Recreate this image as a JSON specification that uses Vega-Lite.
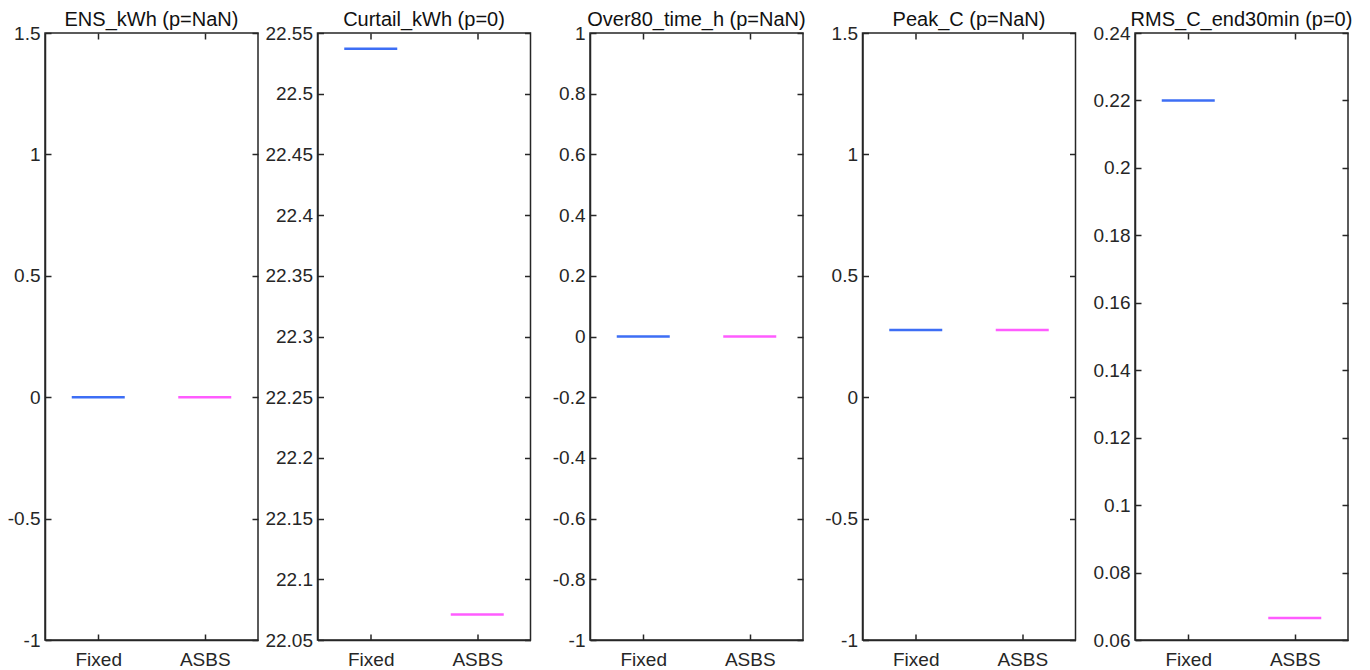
{
  "$schema": "https://vega.github.io/schema/vega-lite/v6.json",
  "background": "white",
  "padding": {"left": 6, "top": 9, "right": 0, "bottom": 0},
  "bounds": "flush",
  "spacing": 59.5,
  "data": {"values": [
    {"metric": "ENS_kWh", "group": "Fixed", "value": 0},
    {"metric": "ENS_kWh", "group": "ASBS", "value": 0},
    {"metric": "Curtail_kWh", "group": "Fixed", "value": 22.537},
    {"metric": "Curtail_kWh", "group": "ASBS", "value": 22.071},
    {"metric": "Over80_time_h", "group": "Fixed", "value": 0},
    {"metric": "Over80_time_h", "group": "ASBS", "value": 0},
    {"metric": "Peak_C", "group": "Fixed", "value": 0.277},
    {"metric": "Peak_C", "group": "ASBS", "value": 0.277},
    {"metric": "RMS_C_end30min", "group": "Fixed", "value": 0.22},
    {"metric": "RMS_C_end30min", "group": "ASBS", "value": 0.0665}
  ]},
  "config": {
    "font": "Liberation Sans",
    "view": {"stroke": "#262626", "strokeWidth": 1.5},
    "axis": {
      "grid": false, "title": null,
      "domainColor": "#262626", "domainWidth": 1.5,
      "tickColor": "#262626", "tickWidth": 1.5, "tickSize": -6,
      "labelColor": "#262626", "labelFont": "Liberation Sans", "labelFontSize": 19,
      "labelPadding": 11
    },
    "axisX": {"labelAngle": 0, "labelPadding": 16},
    "title": {"font": "Liberation Sans", "fontSize": 20, "fontWeight": "normal", "color": "#111111", "frame": "group", "offset": -6},
    "tick": {"thickness": 2.5, "opacity": 1}
  },
  "hconcat": [
    {
      "width": 213, "height": 607,
      "title": "ENS_kWh (p=NaN)",
      "transform": [{"filter": "datum.metric == 'ENS_kWh'"}],
      "layer": [
        {"mark": {"type": "tick", "size": 53, "opacity": 1},
         "encoding": {
           "x": {"field": "group", "type": "nominal", "sort": ["Fixed", "ASBS"], "scale": {"type": "point", "padding": 0.5}, "axis": {"orient": "bottom"}},
           "y": {"field": "value", "type": "quantitative", "scale": {"domain": [-1, 1.5], "nice": false, "zero": false}, "axis": {"orient": "left", "values": [-1, -0.5, 0, 0.5, 1, 1.5], "labelExpr": "'' + datum.value"}},
           "color": {"field": "group", "type": "nominal", "scale": {"domain": ["Fixed", "ASBS"], "range": ["#3d6ef5", "#ff5cff"]}, "legend": null}
         }},
        {"mark": {"type": "tick", "size": 53, "opacity": 0},
         "encoding": {
           "x": {"field": "group", "type": "nominal", "sort": ["Fixed", "ASBS"], "scale": {"type": "point", "padding": 0.5}, "axis": {"orient": "top", "labels": false, "domain": false}},
           "y": {"field": "value", "type": "quantitative", "scale": {"domain": [-1, 1.5], "nice": false, "zero": false}, "axis": {"orient": "right", "labels": false, "domain": false, "values": [-1, -0.5, 0, 0.5, 1, 1.5]}}
         }}
      ],
      "resolve": {"axis": {"x": "independent", "y": "independent"}}
    },
    {
      "width": 213, "height": 607,
      "title": "Curtail_kWh (p=0)",
      "transform": [{"filter": "datum.metric == 'Curtail_kWh'"}],
      "layer": [
        {"mark": {"type": "tick", "size": 53, "opacity": 1},
         "encoding": {
           "x": {"field": "group", "type": "nominal", "sort": ["Fixed", "ASBS"], "scale": {"type": "point", "padding": 0.5}, "axis": {"orient": "bottom"}},
           "y": {"field": "value", "type": "quantitative", "scale": {"domain": [22.05, 22.55], "nice": false, "zero": false}, "axis": {"orient": "left", "values": [22.05, 22.1, 22.15, 22.2, 22.25, 22.3, 22.35, 22.4, 22.45, 22.5, 22.55], "labelExpr": "'' + datum.value"}},
           "color": {"field": "group", "type": "nominal", "scale": {"domain": ["Fixed", "ASBS"], "range": ["#3d6ef5", "#ff5cff"]}, "legend": null}
         }},
        {"mark": {"type": "tick", "size": 53, "opacity": 0},
         "encoding": {
           "x": {"field": "group", "type": "nominal", "sort": ["Fixed", "ASBS"], "scale": {"type": "point", "padding": 0.5}, "axis": {"orient": "top", "labels": false, "domain": false}},
           "y": {"field": "value", "type": "quantitative", "scale": {"domain": [22.05, 22.55], "nice": false, "zero": false}, "axis": {"orient": "right", "labels": false, "domain": false, "values": [22.05, 22.1, 22.15, 22.2, 22.25, 22.3, 22.35, 22.4, 22.45, 22.5, 22.55]}}
         }}
      ],
      "resolve": {"axis": {"x": "independent", "y": "independent"}}
    },
    {
      "width": 213, "height": 607,
      "title": "Over80_time_h (p=NaN)",
      "transform": [{"filter": "datum.metric == 'Over80_time_h'"}],
      "layer": [
        {"mark": {"type": "tick", "size": 53, "opacity": 1},
         "encoding": {
           "x": {"field": "group", "type": "nominal", "sort": ["Fixed", "ASBS"], "scale": {"type": "point", "padding": 0.5}, "axis": {"orient": "bottom"}},
           "y": {"field": "value", "type": "quantitative", "scale": {"domain": [-1, 1], "nice": false, "zero": false}, "axis": {"orient": "left", "values": [-1, -0.8, -0.6, -0.4, -0.2, 0, 0.2, 0.4, 0.6, 0.8, 1], "labelExpr": "'' + datum.value"}},
           "color": {"field": "group", "type": "nominal", "scale": {"domain": ["Fixed", "ASBS"], "range": ["#3d6ef5", "#ff5cff"]}, "legend": null}
         }},
        {"mark": {"type": "tick", "size": 53, "opacity": 0},
         "encoding": {
           "x": {"field": "group", "type": "nominal", "sort": ["Fixed", "ASBS"], "scale": {"type": "point", "padding": 0.5}, "axis": {"orient": "top", "labels": false, "domain": false}},
           "y": {"field": "value", "type": "quantitative", "scale": {"domain": [-1, 1], "nice": false, "zero": false}, "axis": {"orient": "right", "labels": false, "domain": false, "values": [-1, -0.8, -0.6, -0.4, -0.2, 0, 0.2, 0.4, 0.6, 0.8, 1]}}
         }}
      ],
      "resolve": {"axis": {"x": "independent", "y": "independent"}}
    },
    {
      "width": 213, "height": 607,
      "title": "Peak_C (p=NaN)",
      "transform": [{"filter": "datum.metric == 'Peak_C'"}],
      "layer": [
        {"mark": {"type": "tick", "size": 53, "opacity": 1},
         "encoding": {
           "x": {"field": "group", "type": "nominal", "sort": ["Fixed", "ASBS"], "scale": {"type": "point", "padding": 0.5}, "axis": {"orient": "bottom"}},
           "y": {"field": "value", "type": "quantitative", "scale": {"domain": [-1, 1.5], "nice": false, "zero": false}, "axis": {"orient": "left", "values": [-1, -0.5, 0, 0.5, 1, 1.5], "labelExpr": "'' + datum.value"}},
           "color": {"field": "group", "type": "nominal", "scale": {"domain": ["Fixed", "ASBS"], "range": ["#3d6ef5", "#ff5cff"]}, "legend": null}
         }},
        {"mark": {"type": "tick", "size": 53, "opacity": 0},
         "encoding": {
           "x": {"field": "group", "type": "nominal", "sort": ["Fixed", "ASBS"], "scale": {"type": "point", "padding": 0.5}, "axis": {"orient": "top", "labels": false, "domain": false}},
           "y": {"field": "value", "type": "quantitative", "scale": {"domain": [-1, 1.5], "nice": false, "zero": false}, "axis": {"orient": "right", "labels": false, "domain": false, "values": [-1, -0.5, 0, 0.5, 1, 1.5]}}
         }}
      ],
      "resolve": {"axis": {"x": "independent", "y": "independent"}}
    },
    {
      "width": 213, "height": 607,
      "title": "RMS_C_end30min (p=0)",
      "transform": [{"filter": "datum.metric == 'RMS_C_end30min'"}],
      "layer": [
        {"mark": {"type": "tick", "size": 53, "opacity": 1},
         "encoding": {
           "x": {"field": "group", "type": "nominal", "sort": ["Fixed", "ASBS"], "scale": {"type": "point", "padding": 0.5}, "axis": {"orient": "bottom"}},
           "y": {"field": "value", "type": "quantitative", "scale": {"domain": [0.06, 0.24], "nice": false, "zero": false}, "axis": {"orient": "left", "values": [0.06, 0.08, 0.1, 0.12, 0.14, 0.16, 0.18, 0.2, 0.22, 0.24], "labelExpr": "'' + datum.value"}},
           "color": {"field": "group", "type": "nominal", "scale": {"domain": ["Fixed", "ASBS"], "range": ["#3d6ef5", "#ff5cff"]}, "legend": null}
         }},
        {"mark": {"type": "tick", "size": 53, "opacity": 0},
         "encoding": {
           "x": {"field": "group", "type": "nominal", "sort": ["Fixed", "ASBS"], "scale": {"type": "point", "padding": 0.5}, "axis": {"orient": "top", "labels": false, "domain": false}},
           "y": {"field": "value", "type": "quantitative", "scale": {"domain": [0.06, 0.24], "nice": false, "zero": false}, "axis": {"orient": "right", "labels": false, "domain": false, "values": [0.06, 0.08, 0.1, 0.12, 0.14, 0.16, 0.18, 0.2, 0.22, 0.24]}}
         }}
      ],
      "resolve": {"axis": {"x": "independent", "y": "independent"}}
    }
  ]
}
